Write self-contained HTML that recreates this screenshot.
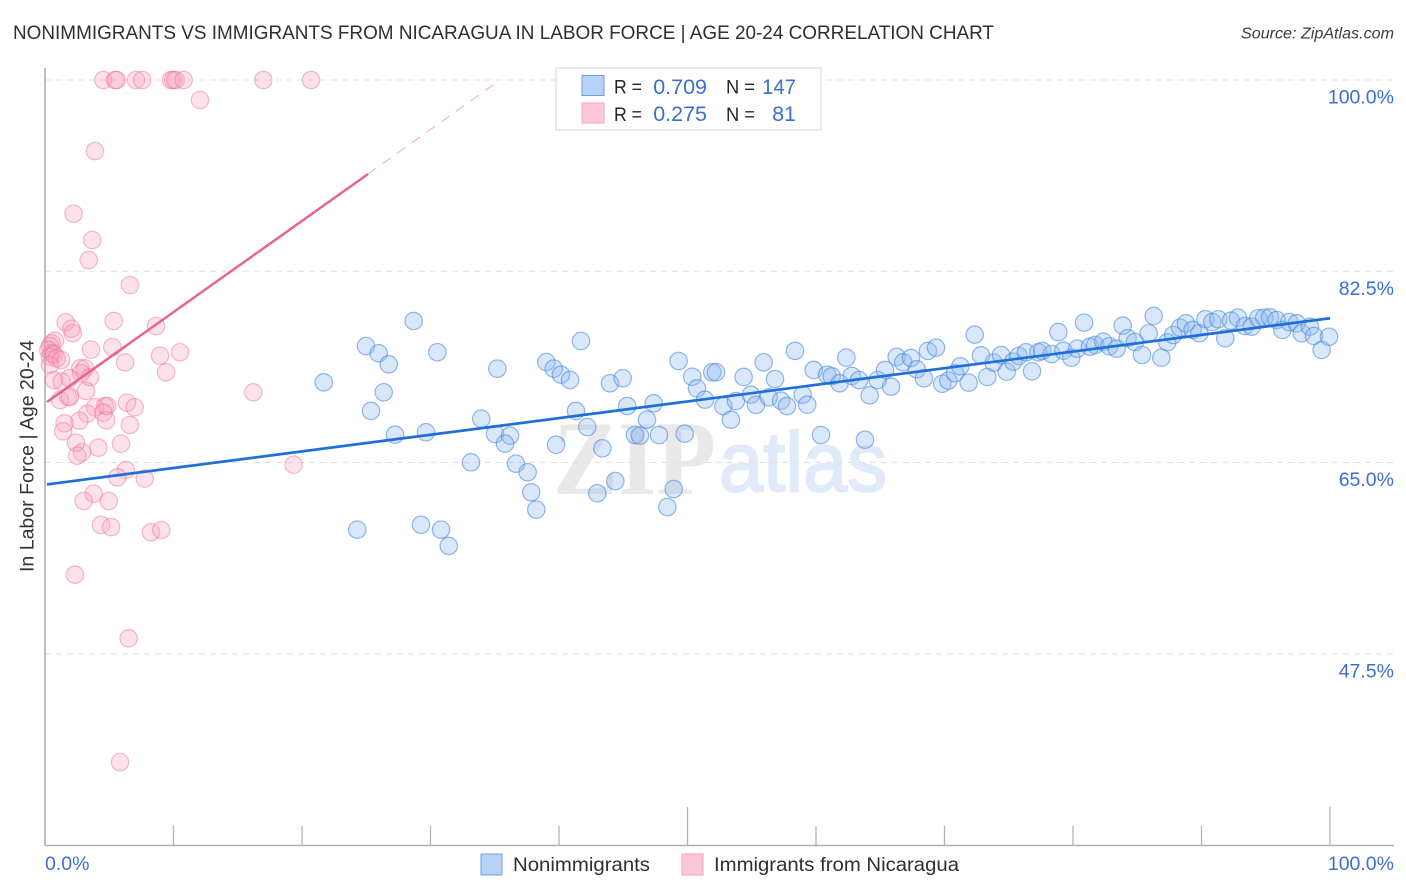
<!DOCTYPE html>
<html lang="en">
<head>
<meta charset="utf-8">
<title>Nonimmigrants vs Immigrants from Nicaragua</title>
<style>
html,body{margin:0;padding:0;background:#fff;width:1406px;height:892px;overflow:hidden}
svg{display:block;font-family:"Liberation Sans",sans-serif}
</style>
</head>
<body>
<svg id="chart" width="1406" height="892" viewBox="0 0 1406 892" xmlns="http://www.w3.org/2000/svg">
  <text x="13" y="39" font-size="19.5" fill="#2e2e33" textLength="981" lengthAdjust="spacingAndGlyphs">NONIMMIGRANTS VS IMMIGRANTS FROM NICARAGUA IN LABOR FORCE | AGE 20-24 CORRELATION CHART</text>
  <text x="1394" y="38.500" font-size="15.500" font-style="italic" fill="#3c3c40" text-anchor="end" textLength="153" lengthAdjust="spacingAndGlyphs">Source: ZipAtlas.com</text>

  <g id="watermark">
    <text x="553" y="494" font-family="Liberation Serif, serif" font-weight="bold" font-size="106" fill="#e9e9e9" textLength="163" lengthAdjust="spacingAndGlyphs">ZIP</text>
    <text x="719" y="491" font-family="Liberation Sans, sans-serif" font-size="84" fill="#e1eaf8" stroke="#e1eaf8" stroke-width="2" textLength="168" lengthAdjust="spacingAndGlyphs">atlas</text>
  </g>

  <g id="grid"></g>
  <g id="axes"></g>
  <g id="points-blue"></g>
  <g id="points-pink"></g>
  <g id="trends"></g>
  <g id="tick-labels"></g>

  <text transform="translate(33.500,456) rotate(-90)" font-size="19" fill="#333338" text-anchor="middle" textLength="232" lengthAdjust="spacingAndGlyphs">In Labor Force | Age 20-24</text>

  <g>
    <rect x="556" y="68" width="265" height="62" fill="#fff" stroke="#d4d4d4" stroke-width="1"/>
    <rect x="582" y="75.500" width="22" height="20" fill="#b6d2f7" stroke="#6f9fe0" stroke-width="1"/>
    <rect x="582" y="103" width="22" height="20" fill="#fdc6d9" stroke="#f2a6c0" stroke-width="1"/>
    <text x="614" y="93.500" font-size="19.500" fill="#26262a" textLength="28" lengthAdjust="spacingAndGlyphs">R =</text>
    <text x="707" y="94" font-size="21.500" fill="#3a6fd0" text-anchor="end">0.709</text>
    <text x="726" y="93.500" font-size="19.500" fill="#26262a" textLength="29" lengthAdjust="spacingAndGlyphs">N =</text>
    <text x="796" y="94" font-size="21.500" fill="#3a6fd0" text-anchor="end" textLength="34" lengthAdjust="spacingAndGlyphs">147</text>
    <text x="614" y="121" font-size="19.500" fill="#26262a" textLength="28" lengthAdjust="spacingAndGlyphs">R =</text>
    <text x="707" y="121" font-size="21.500" fill="#3a6fd0" text-anchor="end">0.275</text>
    <text x="726" y="121" font-size="19.500" fill="#26262a" textLength="29" lengthAdjust="spacingAndGlyphs">N =</text>
    <text x="796" y="121" font-size="21.500" fill="#3a6fd0" text-anchor="end">81</text>
  </g>

  <g>
    <rect x="481" y="854" width="21" height="21" fill="#b6d2f7" stroke="#6f9fe0" stroke-width="1"/>
    <text x="513" y="871" font-size="19.500" fill="#2e2e33" textLength="137" lengthAdjust="spacingAndGlyphs">Nonimmigrants</text>
    <rect x="682" y="854" width="21" height="21" fill="#fdc6d9" stroke="#f2a6c0" stroke-width="1"/>
    <text x="714" y="871" font-size="19.500" fill="#2e2e33" textLength="245" lengthAdjust="spacingAndGlyphs">Immigrants from Nicaragua</text>
  </g>
</svg>
<script>
const yTickValues = [100, 82.5, 65, 47.5];
const yTickLabels = ["100.0%", "82.5%", "65.0%", "47.5%"];
const xTickValues = [0, 10, 20, 30, 40, 50, 60, 70, 80, 90, 100];
const xMajorTicks = [0, 50, 100];
const xEndValues = [0, 100];
const xEndLabels = ["0.0%", "100.0%"];

const blueX = [21.69,24.98,25.97,26.75,28.69,30.53,26.36,25.37,27.24,29.65,33.95,35.02,36.19,35.80,33.15,36.65,37.56,37.84,38.23,24.30,29.26,30.82,31.42,35.20,39.01,39.59,40.15,40.86,41.71,43.97,44.96,41.32,42.20,39.77,43.37,42.98,44.38,45.31,47.37,46.85,45.91,46.30,47.78,49.78,48.93,48.43,49.31,50.37,50.74,51.36,51.93,52.22,52.79,53.77,53.38,54.37,54.94,55.33,55.93,56.32,56.81,57.28,57.74,58.37,58.96,59.32,59.82,60.39,60.86,61.22,61.84,62.36,62.78,63.35,63.81,64.18,64.80,65.37,65.84,66.28,66.79,67.39,67.84,68.40,68.71,69.34,69.83,70.30,70.82,71.23,71.88,72.35,72.84,73.33,73.83,74.40,74.84,75.35,75.77,76.34,76.81,77.30,77.61,78.34,78.86,79.25,79.87,80.33,80.86,81.32,81.73,82.36,82.83,83.40,83.87,84.25,84.82,85.37,86.28,85.89,86.87,87.34,87.80,88.33,88.79,89.31,89.83,90.30,90.84,91.31,91.85,92.29,92.84,93.38,93.91,94.42,94.88,95.33,95.85,96.29,96.83,97.41,97.80,98.44,98.75,99.35,99.92];
const blueY = [72.34,75.66,75.00,73.99,77.95,75.09,71.43,69.72,67.55,67.77,69.01,67.61,67.46,66.73,65.02,64.90,64.11,62.28,60.69,58.86,59.31,58.86,57.37,73.59,74.20,73.59,73.04,72.55,76.12,72.25,72.71,69.72,68.25,66.63,66.30,62.19,63.31,70.17,70.42,68.92,67.52,67.46,67.52,67.64,62.58,60.93,74.29,72.85,71.79,70.75,73.26,73.26,70.17,70.63,68.92,72.83,71.21,70.27,74.17,70.97,72.64,70.66,70.17,75.21,71.21,70.29,73.47,67.52,73.04,72.89,72.25,74.59,72.92,72.55,67.09,71.15,72.55,73.47,71.94,74.66,74.17,74.57,73.53,72.71,75.21,75.51,72.21,72.49,73.17,73.81,72.31,76.70,74.81,72.83,74.14,74.84,73.31,74.23,74.75,75.09,73.35,75.09,75.21,74.93,76.94,75.23,74.59,75.42,77.80,75.60,75.76,76.06,75.64,75.42,77.52,76.37,76.03,74.84,78.41,76.83,74.59,76.00,76.67,77.34,77.74,77.13,76.83,78.11,77.86,78.11,76.37,77.98,78.25,77.49,77.43,78.20,78.25,78.29,78.04,77.13,77.86,77.74,76.83,77.43,76.58,75.30,76.51];

const pinkX = [4.54,5.45,5.58,7.08,7.57,9.81,9.98,10.17,10.79,16.99,20.70,12.06,3.89,2.23,3.68,3.40,6.61,5.35,1.61,2.05,2.16,8.64,0.78,0.52,0.39,0.26,0.52,0.39,0.70,0.91,1.25,0.39,3.58,5.24,8.95,10.51,6.23,9.42,2.75,3.11,2.80,3.50,1.89,0.70,1.30,3.19,16.21,1.17,1.81,1.95,6.38,6.98,3.89,4.67,4.85,4.54,3.29,2.67,4.77,1.53,1.42,6.61,5.91,4.15,2.41,2.88,2.51,6.30,5.63,7.76,19.35,3.79,3.01,4.96,4.36,5.14,8.25,9.05,2.33,6.51,5.84];
const pinkY = [100,100,100,100,100,100,100,100,100,100,100,98.17,93.50,87.77,85.36,83.53,81.24,77.95,77.83,77.25,76.83,77.49,76.15,75.91,75.66,75.30,75.00,74.68,74.90,74.54,74.38,73.93,75.33,75.57,74.78,75.09,74.17,73.26,73.62,73.62,73.17,72.80,72.71,72.55,72.40,71.55,71.43,70.72,70.97,71.03,70.48,70.06,70.06,70.17,70.17,69.56,69.47,68.83,68.87,68.59,67.86,68.44,66.73,66.36,66.82,65.94,65.63,64.32,63.65,63.52,64.80,62.15,61.48,61.48,59.29,59.10,58.62,58.83,54.74,48.92,37.58];

const blueTrendX = [0.15, 100];
const blueTrendY = [63.0, 78.2];
const pinkSolidX = [0.15, 25.14];
const pinkSolidY = [70.54, 91.40];
const pinkDashX = [25.14, 35.41];
const pinkDashY = [91.40, 100];

const NS = "http://www.w3.org/2000/svg";
const xScale = function (v) { return 45 + v * 12.85; };
const yScale = function (v) { return 80 + (100 - v) * 10.93; };
const mk = function (tag, attrs, parent) {
  const el = document.createElementNS(NS, tag);
  Object.keys(attrs).forEach(function (k) { el.setAttribute(k, attrs[k]); });
  parent.appendChild(el);
  return el;
};

const gridG = document.getElementById("grid");
const axesG = document.getElementById("axes");
const blueG = document.getElementById("points-blue");
const pinkG = document.getElementById("points-pink");
const trendG = document.getElementById("trends");
const labelG = document.getElementById("tick-labels");

yTickValues.forEach(function (v) {
  const line = mk("line", {x1: 45, x2: 1394, y1: yScale(v), y2: yScale(v), stroke: "#e0e0e0", "stroke-width": 1, "stroke-dasharray": "6 5"}, gridG);
  
  
});

const yAxis = mk("line", {x1: 45, x2: 45, y1: 68, y2: 845.500, stroke: "#a8a8a8", "stroke-width": 1.500}, axesG);


const xAxis = mk("line", {x1: 45, x2: 1394, y1: 845.500, y2: 845.500, stroke: "#b0b0b0", "stroke-width": 1.500}, axesG);


xTickValues.forEach(function (v) {
  const top = xMajorTicks.indexOf(v) >= 0 ? 807 : 826;
  const tick = mk("line", {x1: xScale(v), x2: xScale(v), y1: top, y2: 845, stroke: "#b4b4b4", "stroke-width": 1.300}, axesG);
  
  
});

blueX.forEach(function (v, i) {
  const c = mk("circle", {cx: xScale(v), cy: yScale(blueY[i]), r: 8.700, fill: "rgba(140,185,240,0.34)", stroke: "rgba(70,135,220,0.58)", "stroke-width": 1.200}, blueG);
  
  
});
pinkX.forEach(function (v, i) {
  const c = mk("circle", {cx: xScale(v), cy: yScale(pinkY[i]), r: 8.700, fill: "rgba(248,160,190,0.3)", stroke: "rgba(235,110,155,0.48)", "stroke-width": 1.200}, pinkG);
  
  
});

const pinkDash = mk("line", {x1: xScale(pinkDashX[0]), y1: yScale(pinkDashY[0]), x2: xScale(pinkDashX[1]), y2: yScale(pinkDashY[1]), stroke: "#f0a8c0", "stroke-width": 1, "stroke-dasharray": "10 8"}, trendG);


const pinkTrend = mk("line", {x1: xScale(pinkSolidX[0]), y1: yScale(pinkSolidY[0]), x2: xScale(pinkSolidX[1]), y2: yScale(pinkSolidY[1]), stroke: "#e8648f", "stroke-width": 2.500}, trendG);


const blueTrend = mk("line", {x1: xScale(blueTrendX[0]), y1: yScale(blueTrendY[0]), x2: xScale(blueTrendX[1]), y2: yScale(blueTrendY[1]), stroke: "#1f6fd8", "stroke-width": 2.700}, trendG);



yTickLabels.forEach(function (label, i) {
  const t = mk("text", {x: 1394, y: yScale(yTickValues[i]) + 23.500, "font-size": 19.5, fill: "#3a6fd0", "text-anchor": "end"}, labelG);
  
  
  t.textContent = label;
});
xEndLabels.forEach(function (label, i) {
  const t = mk("text", {x: i === 0 ? xScale(xEndValues[i]) : 1394, y: 870, "font-size": 19.5, fill: "#3a6fd0", "text-anchor": i === 0 ? "start" : "end"}, labelG);
  
  
  t.textContent = label;
});
</script>
</body>
</html>
